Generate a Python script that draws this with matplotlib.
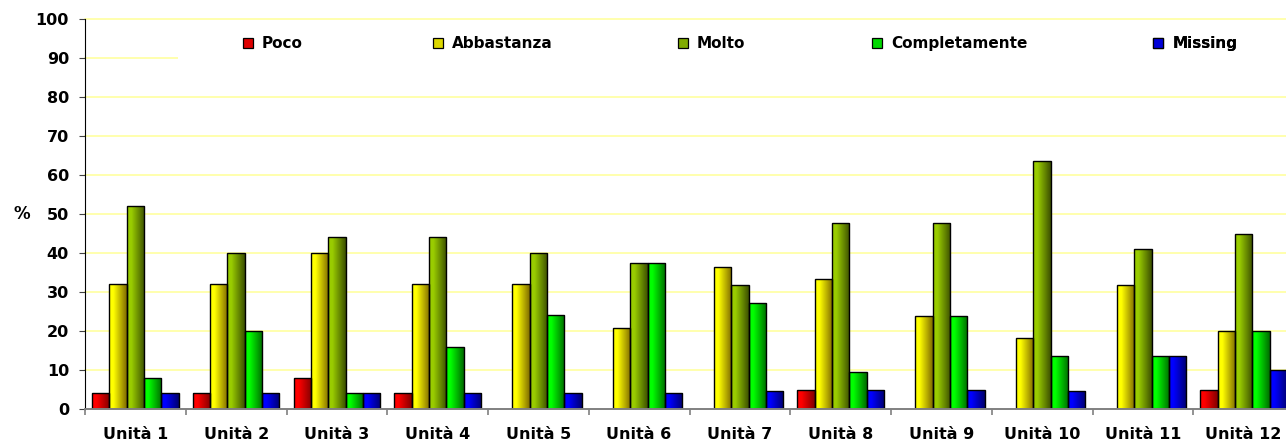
import matplotlib
matplotlib.use('Agg')
import matplotlib.pyplot as plt
import numpy as np
from matplotlib.colors import LinearSegmentedColormap
from matplotlib.patches import Patch, Rectangle

# data (percentages)
units = ['Unità %d' % i for i in range(1, 13)]
series = ['Poco', 'Abbastanza', 'Molto', 'Completamente', 'Missing']
poco = [4, 4, 8, 4, 0, 0, 0, 4.8, 0, 0, 0, 5]
abbastanza = [32, 32, 40, 32, 32, 20.8, 36.4, 33.3, 23.8, 18.2, 31.8, 20]
molto = [52, 40, 44, 44, 40, 37.5, 31.8, 47.6, 47.6, 63.6, 40.9, 45]
completamente = [8, 20, 4, 16, 24, 37.5, 27.3, 9.5, 23.8, 13.6, 13.6, 20]
missing = [4, 4, 4, 4, 4, 4.2, 4.5, 4.8, 4.8, 4.5, 13.6, 10]
values = [poco, abbastanza, molto, completamente, missing]

# (light, dark) pairs for the horizontal gradient of each series
colors = [('#ff0000', '#820000'),
          ('#ffff00', '#806c00'),
          ('#99cc00', '#3c5000'),
          ('#00ff00', '#006c00'),
          ('#0000ff', '#00006e')]
legend_x = [0.1307, 0.2878, 0.4905, 0.651, 0.8834]

plt.rcParams['font.family'] = ['DejaVu Sans']
plt.rcParams['font.weight'] = 'bold'

fig = plt.figure(figsize=(12.86, 4.41), dpi=100)
ax = fig.add_axes([85 / 1286, 32 / 441, 1209 / 1286, 390 / 441])

x = np.arange(len(units))
width = 0.172
grad = np.linspace(0, 1, 64).reshape(1, -1)

for i, (name, vals, (c0, c1)) in enumerate(zip(series, values, colors)):
    cmap = LinearSegmentedColormap.from_list(name, [(0, c0), (0.25, c0), (1, c1)])
    lw = [1.0 if v > 0 else 0 for v in vals]
    bars = ax.bar(x + (i - 2) * width, vals, width, facecolor='none',
                  edgecolor='black', linewidth=lw, zorder=3)
    for rect, v in zip(bars, vals):
        if v <= 0:
            continue
        x0 = rect.get_x()
        im = ax.imshow(grad, extent=[x0, x0 + rect.get_width(), 0, rect.get_height()],
                       cmap=cmap, aspect='auto', interpolation='bilinear', zorder=2)
        im.set_clip_path(rect)
    handle = Patch(facecolor=cmap(0.45), edgecolor='black', linewidth=0.9)
    leg = ax.legend(handles=[handle], labels=[name], loc='center left',
                    bbox_to_anchor=(legend_x[i], 0.936), frameon=False,
                    borderpad=0, borderaxespad=0, handlelength=0.65,
                    handleheight=0.65, handletextpad=0.6,
                    prop={'size': 11, 'weight': 'bold'})
    ax.add_artist(leg)

# white band behind the legend hides the 90 gridline
ax.add_patch(Rectangle((0.077, 86), 0.923, 8, transform=ax.get_yaxis_transform(),
                       facecolor='white', edgecolor='none', zorder=1))

ax.set_xlim(-0.5, len(units) - 0.5)
ax.set_ylim(0, 100)
ax.set_yticks(np.arange(0, 101, 10))
ax.yaxis.grid(True, color='#ffffa0', linewidth=1.2)
ax.set_axisbelow(True)
gridlines = ax.yaxis.get_gridlines()
for gl in gridlines:
    gl.set_clip_on(False)
gridlines[0].set_visible(False)

ax.set_xticks(np.arange(-0.5, len(units), 1))
ax.set_xticklabels([])
ax.set_xticks(x, minor=True)
ax.set_xticklabels(units, minor=True)
ax.tick_params(axis='x', which='major', direction='out', length=4, width=1.2,
               color='#808080')
ax.tick_params(axis='x', which='minor', length=0, pad=13, labelsize=11.5)
ax.tick_params(axis='y', direction='out', length=4.5, color='#404040', pad=7,
               labelsize=11.5)

ax.set_ylabel('%', rotation=0, fontsize=12, fontweight='bold', ha='center', va='center')
ax.yaxis.set_label_coords(-0.052, 0.5)

for s in ('top', 'right'):
    ax.spines[s].set_visible(False)
ax.spines['left'].set_color('black')
ax.spines['bottom'].set_color('#808080')
ax.spines['bottom'].set_linewidth(1.4)
ax.spines['left'].set_zorder(4)
ax.spines['bottom'].set_zorder(4)

fig.savefig('out.png', dpi=100)
